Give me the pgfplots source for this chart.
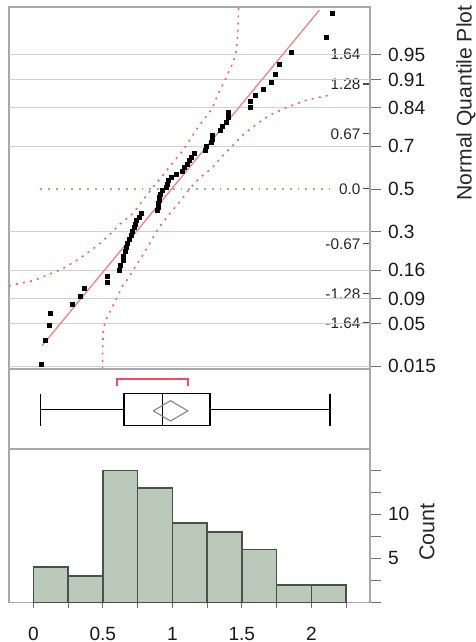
\documentclass[border=0pt]{standalone}
\usepackage{fontspec}
\setmainfont{Liberation Sans}
\usepackage{pgfplots}
\pgfplotsset{compat=1.18}
\definecolor{framegray}{HTML}{A8A8A8}
\definecolor{gridgray}{HTML}{D0D0D0}
\definecolor{tickgray}{HTML}{707070}
\definecolor{fitred}{HTML}{F07A7A}
\definecolor{bandred}{HTML}{F06464}
\definecolor{medgreen}{HTML}{80C080}
\definecolor{barfill}{HTML}{BAC9BA}
\definecolor{baredge}{HTML}{4A504A}
\definecolor{bracketred}{HTML}{F04C64}
\newcommand{\tk}[1]{#1\hspace{1.3bp}\textcolor{black!70}{\rule[0.33em]{3bp}{0.6bp}}}
\pgfplotsset{
  /pgf/number format/assume math mode=true,
  panel/.style={scale only axis, anchor=north west, width=180.5bp,
    xmin=-0.175, xmax=2.422,
    axis line style={draw=framegray, line width=0.6bp},
    tick style={draw=tickgray, line width=0.5bp}},
}
\begin{document}
\begin{tikzpicture}
\path[use as bounding box] (0,0) rectangle (238bp,-321bp);
% ---------- Normal quantile plot ----------
\begin{axis}[panel, at={(4.5bp,-3.5bp)}, height=181bp,
  ymin=-2.203, ymax=2.228,
  xtick=\empty,
  ytick={-2.170,-1.645,-1.341,-0.994,-0.524,0,0.524,0.994,1.341,1.645},
  yticklabels={0.015,0.05,0.09,0.16,0.3,0.5,0.7,0.84,0.91,0.95},
  ytick pos=right, yticklabel pos=right, tick align=outside,
  major tick length=5.5bp,
  yticklabel style={font=\fontsize{9.6}{10}\selectfont, text=black!90},
  extra y ticks={-1.645,-1.282,-0.674,0,0.674,1.282,1.645},
  extra y tick labels={\tk{-1.64},\tk{-1.28},\tk{-0.67},\tk{0.0},\tk{0.67},\tk{1.28},\tk{1.64}},
  extra y tick style={tick align=inside, major tick length=0bp,
    yticklabel style={anchor=east, inner xsep=0pt, xshift=-0.3bp, font=\fontsize{7.7}{8}\selectfont, text=black!85}},
]
% grid lines at probability levels
\addplot[gridgray, line width=0.6bp, forget plot] coordinates {(-0.175,-2.170)(2.422,-2.170)};
\addplot[gridgray, line width=0.6bp, forget plot] coordinates {(-0.175,-1.645)(2.422,-1.645)};
\addplot[gridgray, line width=0.6bp, forget plot] coordinates {(-0.175,-1.341)(2.422,-1.341)};
\addplot[gridgray, line width=0.6bp, forget plot] coordinates {(-0.175,-0.994)(2.422,-0.994)};
\addplot[gridgray, line width=0.6bp, forget plot] coordinates {(-0.175,-0.524)(2.422,-0.524)};
\addplot[gridgray, line width=0.6bp, forget plot] coordinates {(-0.175,0.524)(2.422,0.524)};
\addplot[gridgray, line width=0.6bp, forget plot] coordinates {(-0.175,0.994)(2.422,0.994)};
\addplot[gridgray, line width=0.6bp, forget plot] coordinates {(-0.175,1.341)(2.422,1.341)};
\addplot[gridgray, line width=0.6bp, forget plot] coordinates {(-0.175,1.645)(2.422,1.645)};
% median reference line
\addplot[medgreen, line width=0.8bp, dash pattern=on 0.9bp off 3bp] coordinates {(0.05,0)(2.135,0)};
% confidence bands
\addplot[bandred, line width=0.8bp, dash pattern=on 1bp off 2.6bp] coordinates {
(-0.175,-1.19)(-0.155,-1.175)(0.0,-1.122)(0.204,-0.983)(0.336,-0.848)(0.456,-0.698)
(0.564,-0.535)(0.624,-0.428)(0.719,-0.297)(0.780,-0.155)(0.863,0.028)(0.924,0.151)
(1.019,0.355)(1.079,0.477)(1.187,0.763)(1.283,0.976)(1.331,1.171)(1.379,1.334)
(1.439,1.558)(1.458,1.661)(1.468,1.845)(1.475,2.069)(1.476,2.228)};
\addplot[bandred, line width=0.8bp, dash pattern=on 1bp off 2.6bp] coordinates {
(0.499,-2.203)(0.499,-1.930)(0.504,-1.705)(0.532,-1.563)(0.564,-1.460)(0.600,-1.338)
(0.638,-1.196)(0.683,-1.093)(0.719,-0.991)(0.780,-0.829)(0.852,-0.624)(0.899,-0.481)
(0.983,-0.297)(1.055,-0.155)(1.127,0.009)(1.199,0.141)(1.283,0.253)(1.355,0.395)
(1.415,0.498)(1.499,0.649)(1.571,0.747)(1.631,0.824)(1.703,0.906)(1.835,1.007)
(1.967,1.089)(2.135,1.151)};
% normal fit line
\addplot[fitred, line width=0.6bp] coordinates {(0.063,-1.918)(2.058,2.190)};
% data points
\addplot[only marks, mark=square*, mark size=1.0bp, black] coordinates {
(0.055,-2.148)(0.09,-1.856)(0.115,-1.668)(0.12,-1.526)(0.28,-1.409)(0.34,-1.309)
(0.37,-1.221)(0.53,-1.141)(0.53,-1.068)(0.62,-1.000)(0.625,-0.936)(0.645,-0.876)
(0.65,-0.819)(0.665,-0.765)(0.67,-0.712)(0.68,-0.662)(0.69,-0.613)(0.705,-0.566)
(0.715,-0.520)(0.725,-0.475)(0.735,-0.431)(0.745,-0.388)(0.765,-0.345)(0.78,-0.303)
(0.895,-0.262)(0.90,-0.221)(0.90,-0.180)(0.905,-0.140)(0.91,-0.100)(0.915,-0.060)
(0.925,-0.020)(0.96,0.020)(0.965,0.060)(0.975,0.100)(0.99,0.140)(1.03,0.180)
(1.07,0.221)(1.09,0.262)(1.108,0.303)(1.122,0.345)(1.14,0.388)(1.156,0.431)
(1.235,0.475)(1.245,0.520)(1.278,0.566)(1.285,0.613)(1.29,0.662)(1.343,0.712)
(1.363,0.765)(1.386,0.819)(1.40,0.876)(1.405,0.936)(1.56,1.000)(1.565,1.068)
(1.60,1.141)(1.655,1.221)(1.715,1.309)(1.74,1.409)(1.768,1.526)(1.854,1.668)
(2.106,1.856)(2.15,2.148)};
\end{axis}
% ---------- Box plot ----------
\begin{axis}[panel, at={(4.5bp,-184.5bp)}, height=40bp,
  ymin=0, ymax=1, xtick=\empty, ytick=\empty]
\addplot[black, line width=0.65bp] coordinates {(0.652,0.29)(1.27,0.29)(1.27,0.696)(0.652,0.696)(0.652,0.29)};
\addplot[black, line width=0.65bp] coordinates {(0.93,0.29)(0.93,0.696)};
\addplot[black, line width=0.65bp] coordinates {(0.05,0.494)(0.652,0.494)};
\addplot[black, line width=0.65bp] coordinates {(1.27,0.494)(2.135,0.494)};
\addplot[black, line width=0.65bp] coordinates {(0.05,0.29)(0.05,0.685)};
\addplot[black, line width=0.65bp] coordinates {(2.135,0.29)(2.135,0.685)};
\addplot[gray!90, line width=0.6bp] coordinates {(0.863,0.477)(0.987,0.604)(1.111,0.477)(0.987,0.35)(0.863,0.477)};
\addplot[bracketred, line width=1bp] coordinates {(0.6,0.79)(0.6,0.871)(1.11,0.871)(1.11,0.79)};
\end{axis}
% ---------- Histogram ----------
\begin{axis}[panel, at={(4.5bp,-224.5bp)}, height=76.7bp,
  ymin=0, ymax=17.42,
  xtick={0,0.25,0.5,0.75,1,1.25,1.5,1.75,2,2.25},
  xticklabels={0,,0.5,,1,,1.5,,2,},
  ytick={0,2.5,5,7.5,10,12.5,15},
  yticklabels={,,5,,10,,},
  xtick pos=bottom, ytick pos=right, yticklabel pos=right,
  tick align=outside, major tick length=5.5bp,
  xtick style={/pgfplots/major tick length=3bp},
  xticklabel style={font=\fontsize{9.6}{10}\selectfont, text=black!90, yshift=-3.5bp},
  yticklabel style={font=\fontsize{9.6}{10}\selectfont, text=black!90},
]
\addplot[ybar interval, fill=barfill, draw=baredge, line width=0.75bp] coordinates {
(0,4)(0.25,3)(0.5,15)(0.75,13)(1.0,9)(1.25,8)(1.5,6)(1.75,2)(2.0,2)(2.25,2)};
\end{axis}
\node[rotate=90, font=\fontsize{10.6}{11}\selectfont, text=black!85] at (233bp,-51.5bp) {Normal Quantile Plot};
\node[rotate=90, font=\fontsize{10.8}{11}\selectfont, text=black!85] at (213.5bp,-266bp) {Count};
\end{tikzpicture}
\end{document}
